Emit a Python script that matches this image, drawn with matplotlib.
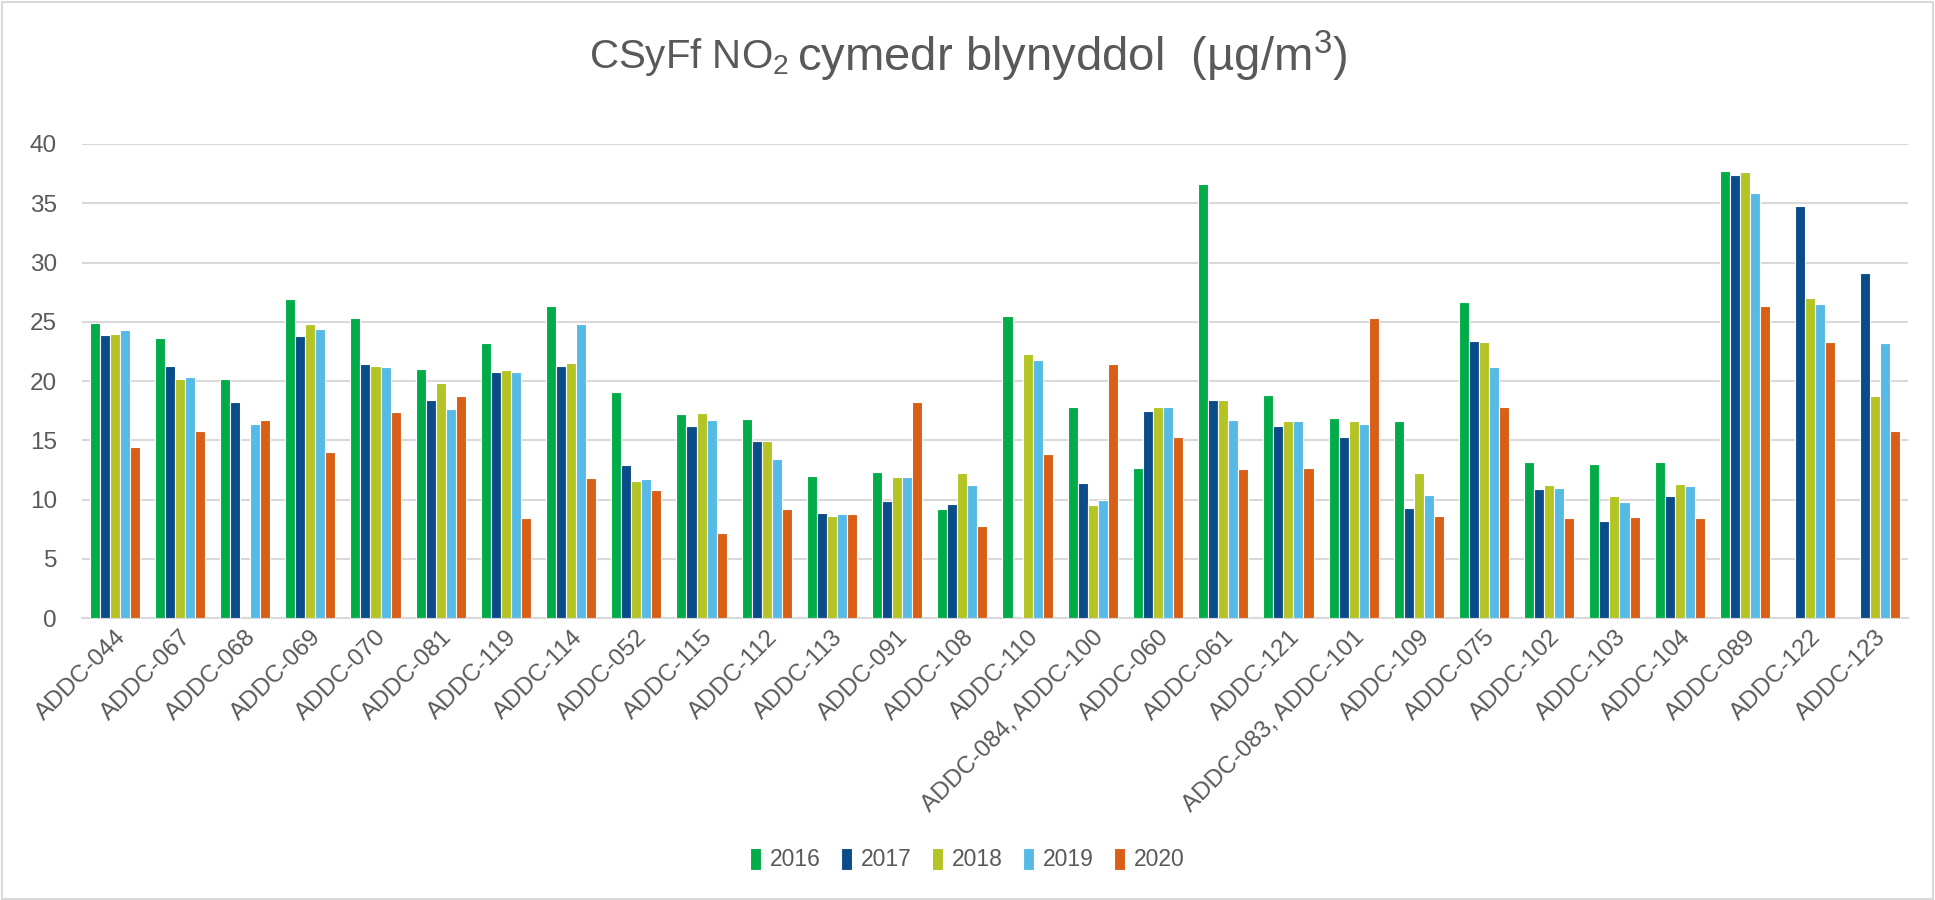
import numpy as np
import matplotlib
matplotlib.use("Agg")
import matplotlib.pyplot as plt
from matplotlib.patches import Rectangle

plt.rcParams['font.family'] = ['Liberation Sans', 'DejaVu Sans']
plt.rcParams['mathtext.fontset'] = 'custom'
plt.rcParams['mathtext.rm'] = 'Liberation Sans'
plt.rcParams['mathtext.it'] = 'Liberation Sans'

# safleoedd (categories)
safleoedd = ["ADDC-044", "ADDC-067", "ADDC-068", "ADDC-069", "ADDC-070", "ADDC-081",
             "ADDC-119", "ADDC-114", "ADDC-052", "ADDC-115", "ADDC-112", "ADDC-113",
             "ADDC-091", "ADDC-108", "ADDC-110", "ADDC-084, ADDC-100", "ADDC-060",
             "ADDC-061", "ADDC-121", "ADDC-083, ADDC-101", "ADDC-109", "ADDC-075",
             "ADDC-102", "ADDC-103", "ADDC-104", "ADDC-089", "ADDC-122", "ADDC-123"]

blynyddoedd = ["2016", "2017", "2018", "2019", "2020"]

# NaN = dim data
v2016 = [24.9, 23.6, 20.2, 26.9, 25.3, 21.0, 23.2, 26.3, 19.1, 17.2, 16.8, 12.0, 12.3, 9.2,
         25.5, 17.8, 12.7, 36.6, 18.8, 16.9, 16.6, 26.7, 13.2, 13.0, 13.2, 37.7, np.nan, np.nan]
v2017 = [23.9, 21.3, 18.2, 23.8, 21.4, 18.4, 20.8, 21.3, 12.9, 16.2, 14.9, 8.9, 9.9, 9.6,
         np.nan, 11.4, 17.5, 18.4, 16.2, 15.3, 9.3, 23.4, 10.9, 8.2, 10.3, 37.4, 34.8, 29.1]
v2018 = [24.0, 20.2, np.nan, 24.8, 21.3, 19.8, 20.9, 21.5, 11.6, 17.3, 14.9, 8.6, 11.9, 12.2,
         22.3, 9.5, 17.8, 18.4, 16.6, 16.6, 12.2, 23.3, 11.2, 10.3, 11.3, 37.6, 27.0, 18.7]
v2019 = [24.3, 20.3, 16.4, 24.4, 21.2, 17.6, 20.8, 24.8, 11.7, 16.7, 13.4, 8.8, 11.9, 11.2,
         21.8, 10.0, 17.8, 16.7, 16.6, 16.4, 10.4, 21.2, 11.0, 9.8, 11.1, 35.9, 26.5, 23.2]
v2020 = [14.4, 15.8, 16.7, 14.0, 17.4, 18.7, 8.4, 11.8, 10.8, 7.2, 9.2, 8.8, 18.2, 7.8,
         13.8, 21.4, 15.3, 12.6, 12.7, 25.3, 8.6, 17.8, 8.4, 8.5, 8.4, 26.3, 23.3, 15.8]

lliwiau = ['#00AC48', '#0A4C8A', '#B4C424', '#56BAE6', '#D95F17']
llwyd = '#595959'

fig = plt.figure(figsize=(19.35, 9), dpi=100)
ax = fig.add_axes([0.0424, 0.3133, 0.9436, 0.5267])

x = np.arange(len(safleoedd))
lled = 0.154
cyfresi = [v2016, v2017, v2018, v2019, v2020]
for i, (gwerthoedd, lliw, bl) in enumerate(zip(cyfresi, lliwiau, blynyddoedd)):
    ax.bar(x + (i - 2) * lled, gwerthoedd, width=lled, color=lliw, edgecolor='white',
           linewidth=0.8, label=bl, zorder=3)

ax.set_xlim(-0.5, len(safleoedd) - 0.5)
ax.set_ylim(0, 40)
ax.set_yticks(range(0, 41, 5))
ax.grid(axis='y', color='#D9D9D9', linewidth=1.5, zorder=0)
for s in ['top', 'right', 'left']:
    ax.spines[s].set_visible(False)
ax.spines['bottom'].set_color('#D9D9D9')
ax.spines['bottom'].set_linewidth(1.5)
ax.tick_params(axis='both', length=0, labelsize=17.5, colors=llwyd)
ax.tick_params(axis='y', pad=18)
ax.tick_params(axis='x', pad=6)
ax.set_xticks(x)
ax.set_xticklabels(safleoedd, rotation=45, ha='right', rotation_mode='anchor')

# teitl mewn dau ddarn, maint gwahanol
fig.text(0.408, 0.937, r"CSyFf NO$_2$", fontsize=29, color=llwyd, ha='right', va='center')
fig.text(0.412, 0.937, r"cymedr blynyddol  (µg/m$^3$)", fontsize=34, color=llwyd,
         ha='left', va='center')

ax.legend(loc='center', bbox_to_anchor=(0.5, 0.045), bbox_transform=fig.transFigure,
          ncol=5, frameon=False, fontsize=16.5, labelcolor=llwyd, handlelength=0.45,
          handleheight=1.1, handletextpad=0.4, columnspacing=0.9)

fig.patches.append(Rectangle((0.001, 0.001), 0.998, 0.997, transform=fig.transFigure,
                             fill=False, edgecolor='#D9D9D9', linewidth=1.5))

fig.savefig("out.png", dpi=100)
